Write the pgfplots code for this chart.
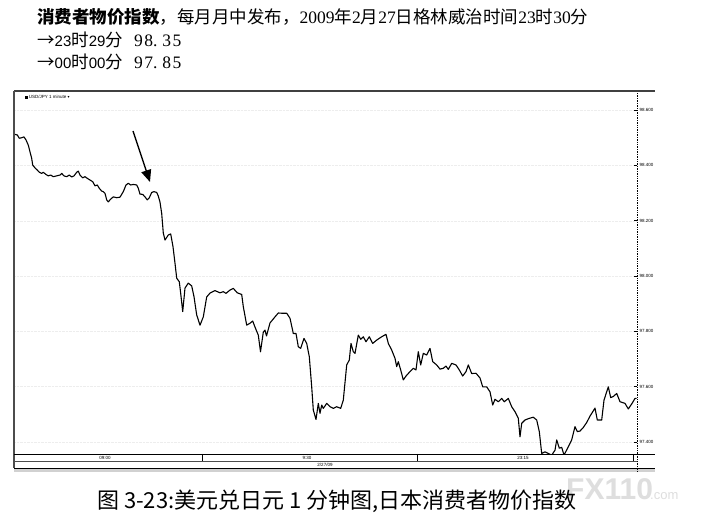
\documentclass[border=0pt]{standalone}
\usepackage{pgfplots}
\usepackage{pgfplotstable}
\pgfplotsset{compat=1.18}
\usepackage{fontspec}
\setmainfont{Liberation Serif}
\newfontfamily\cjk{Noto Sans CJK SC}
\newfontfamily\lsans{Liberation Sans}
\newfontfamily\dejavu{DejaVu Sans}
\usetikzlibrary{arrows.meta}

% USD/JPY 1-minute closes, x = minutes-ish from left edge of window
\pgfplotstableread{
x y
1.0 98.512
3.3 98.510
5.3 98.498
7.7 98.500
10.0 98.503
12.0 98.492
14.3 98.473
16.0 98.449
17.7 98.425
18.7 98.401
21.0 98.391
23.3 98.383
25.3 98.375
27.7 98.371
29.3 98.375
32.0 98.367
34.3 98.362
36.7 98.365
39.3 98.359
42.7 98.362
46.0 98.365
47.7 98.371
50.0 98.362
52.7 98.359
55.3 98.365
57.7 98.358
60.0 98.362
62.7 98.375
64.3 98.379
66.0 98.365
68.7 98.355
71.0 98.359
73.3 98.353
76.0 98.347
78.7 98.341
81.0 98.326
83.3 98.329
85.3 98.317
87.7 98.307
89.3 98.305
91.0 98.299
92.7 98.275
94.3 98.268
96.7 98.278
99.3 98.286
102.7 98.283
106.0 98.285
109.3 98.305
112.0 98.329
114.3 98.335
116.7 98.329
119.3 98.331
122.7 98.329
124.3 98.317
126.0 98.296
128.7 98.295
131.0 98.286
133.3 98.275
135.3 98.283
137.7 98.302
140.0 98.305
142.7 98.302
144.3 98.289
146.0 98.267
147.7 98.226
149.3 98.155
151.0 98.130
154.3 98.148
156.7 98.152
159.0 98.106
161.0 98.046
162.7 97.992
165.3 97.979
166.7 97.937
168.7 97.871
171.0 97.956
174.3 97.974
177.7 97.964
180.0 97.925
182.7 97.859
186.0 97.822
189.3 97.852
192.7 97.924
196.0 97.938
201.0 97.947
206.0 97.939
209.3 97.943
212.0 97.937
216.0 97.949
219.3 97.955
223.3 97.939
227.7 97.933
229.3 97.889
232.7 97.822
236.0 97.829
238.7 97.837
241.0 97.815
244.3 97.786
246.5 97.726
249.3 97.797
251.0 97.804
252.5 97.783
256.0 97.830
261.0 97.852
264.3 97.866
268.7 97.865
272.7 97.865
276.0 97.847
279.3 97.792
282.0 97.792
284.3 97.744
286.7 97.738
290.0 97.774
292.7 97.756
295.3 97.708
297.7 97.599
299.3 97.515
302.0 97.481
304.3 97.539
306.0 97.503
307.7 97.533
309.3 97.521
312.7 97.539
316.0 97.527
319.3 97.521
322.7 97.527
326.7 97.521
329.3 97.551
332.7 97.678
335.3 97.696
337.0 97.756
339.3 97.726
341.0 97.720
344.3 97.786
346.7 97.771
349.3 97.780
352.0 97.762
355.3 97.780
358.7 97.756
362.7 97.768
367.7 97.780
372.0 97.789
374.3 97.756
377.7 97.732
381.0 97.702
382.7 97.672
384.3 97.690
386.7 97.660
389.3 97.624
392.0 97.638
396.0 97.654
399.3 97.666
402.0 97.660
404.3 97.726
406.7 97.678
409.3 97.720
412.7 97.714
416.0 97.738
418.7 97.690
422.7 97.678
426.0 97.663
429.3 97.666
432.0 97.674
434.3 97.662
437.7 97.684
442.0 97.678
445.3 97.660
448.7 97.638
452.0 97.654
454.3 97.678
457.7 97.647
462.0 97.648
466.0 97.631
468.7 97.599
472.7 97.599
476.0 97.581
478.7 97.533
481.0 97.554
484.3 97.545
487.7 97.557
490.3 97.545
494.3 97.557
497.7 97.527
501.0 97.509
504.3 97.485
506.0 97.418
507.7 97.467
511.0 97.479
515.3 97.485
519.3 97.489
522.7 97.479
525.3 97.437
527.7 97.358
531.0 97.364
534.3 97.358
537.7 97.352
541.0 97.370
542.7 97.407
545.3 97.377
547.7 97.380
550.0 97.352
554.3 97.382
557.7 97.407
561.0 97.455
563.3 97.437
566.0 97.439
569.3 97.452
572.7 97.470
576.0 97.493
581.0 97.522
583.3 97.479
587.7 97.479
590.0 97.551
592.7 97.581
594.3 97.599
596.7 97.560
599.3 97.564
602.7 97.575
606.0 97.545
611.0 97.539
614.3 97.519
617.7 97.537
621.0 97.557
622.7 97.557
}\usdjpy

\begin{document}
\begin{tikzpicture}
\useasboundingbox[fill=white] (0pt,0pt) rectangle (707pt,-526pt);

% header lines
\begin{scope}[x=1pt,y=-1pt]
\node[anchor=base west,inner sep=0pt,font=\fontsize{17.5}{20}\selectfont] at (37,24)
  {{\cjk\bfseries 消费者物价指数}{\cjk ，每月月中发布，}2009{\cjk 年}2{\cjk 月}27{\cjk 日格林威治时间}23{\cjk 时}30{\cjk 分}};
\node[anchor=base west,inner sep=0pt,font=\fontsize{17.5}{20}\selectfont] at (37,47)
  {{\cjk →}{\lsans\fontsize{15}{18}\selectfont 23}{\cjk 时}{\lsans\fontsize{15}{18}\selectfont 29}{\cjk 分}\hspace{11pt}9\kern1.5pt8.\kern5pt3\kern1.5pt5};
\node[anchor=base west,inner sep=0pt,font=\fontsize{17.5}{20}\selectfont] at (37,69)
  {{\cjk →}{\lsans\fontsize{15}{18}\selectfont 00}{\cjk 时}{\lsans\fontsize{15}{18}\selectfont 00}{\cjk 分}\hspace{11pt}9\kern1.5pt7.\kern5pt8\kern1.5pt5};
\end{scope}

\begin{axis}[
  at={(14pt,-454pt)}, anchor=south west,
  width=623pt, height=363pt, scale only axis,
  xmin=0, xmax=623, ymin=97.356, ymax=98.669,
  axis x line=none,
  axis y line*=right,
  y axis line style={densely dotted, line width=0.7pt},
  ytick={97.4,97.6,97.8,98.0,98.2,98.4,98.6},
  yticklabels={97.400,97.600,97.800,98.000,98.200,98.400,98.600},
  yticklabel style={font=\lsans\fontsize{4.5}{5}\selectfont, xshift=-1pt},
  /pgf/number format/assume math mode=true,
  major tick length=3pt,
  tick style={black, line width=0.4pt},
  ymajorgrids,
  grid style={gray!14, densely dotted, line width=0.3pt},
  clip=true,
]
\addplot[black, line width=1.1pt, line join=round] table[x=x, y=y] {\usdjpy};
\end{axis}

\begin{scope}[x=1pt,y=-1pt]
% chart window frame
\draw[line width=1.6pt, black!75] (14,91) -- (655,91);
\draw[line width=1.2pt, black!70] (14,91) -- (14,468);
\node[anchor=west,inner sep=0pt,font=\lsans\fontsize{4.5}{5}\selectfont] at (25,97)
  {\rule{3pt}{3pt}\,USD/JPY 1 minute {\dejavu\fontsize{4}{5}\selectfont ▾}};
% time strip
\draw[line width=0.9pt] (14,454) -- (655,454);
\draw[line width=0.4pt, black!70] (14,461) -- (637,461);
\draw[line width=0.9pt] (14,468) -- (655,468);
\fill[black!18] (14,469) rectangle (655,472);
\draw[line width=0.4pt] (202,454) -- (202,461);
\draw[line width=0.4pt] (417,454) -- (417,461);
\draw[line width=0.5pt] (633,454) -- (633,461);
\draw[densely dotted, line width=0.7pt] (637,454) -- (637,472);
\foreach \px/\lab in {105/09:00, 307/9:30, 523/23:15}
  \node[inner sep=0pt,font=\lsans\fontsize{4.5}{5}\selectfont] at (\px,457.5) {\lab};
\node[inner sep=0pt,font=\lsans\fontsize{4.5}{5}\selectfont] at (325,464.5) {2/27/09};
% release marker
\draw[line width=1.4pt, -{Triangle[length=12pt,width=10pt]}] (133,131) -- (150,182);
% watermark
\node[anchor=base west,inner sep=0pt,text=black!13,font=\lsans\bfseries\fontsize{30}{30}\selectfont] at (566,499) {FX110};
\node[anchor=base west,inner sep=0pt,text=black!13,font=\lsans\fontsize{13}{13}\selectfont] at (650,499) {.com};
% caption
\node[anchor=base west,inner sep=0pt,font=\cjk\fontsize{22}{25}\selectfont] at (97,508)
  {图 3-23:美元兑日元 1 分钟图,日本消费者物价指数};
\end{scope}
\end{tikzpicture}
\end{document}
